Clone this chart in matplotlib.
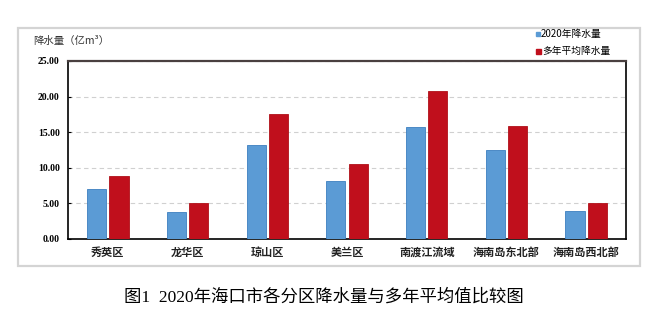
import matplotlib.pyplot as plt
import matplotlib.patches as patches
import numpy as np

plt.rcParams['font.family'] = ['Noto Sans CJK SC', 'DejaVu Sans']

regions = ['秀英区', '龙华区', '琼山区', '美兰区', '南渡江流域', '海南岛东北部', '海南岛西北部']
rain_2020 = [7.0, 3.8, 13.2, 8.1, 15.7, 12.5, 3.9]
rain_avg = [8.8, 5.0, 17.6, 10.5, 20.8, 15.9, 5.0]
yticks = [0, 5, 10, 15, 20, 25]

blue = '#5b9bd5'
red = '#c00f1c'

fig = plt.figure(figsize=(6.48, 3.25), dpi=100)

# outer frame
frame = patches.Rectangle((18/648, 1-266/325), (640-18)/648, (266-28)/325,
                          transform=fig.transFigure, fill=False,
                          edgecolor='#d4d4d4', linewidth=1.6)
fig.patches.append(frame)

ax = fig.add_axes([68/648, 1-239/325, (626-68)/648, (239-61)/325])
x = np.arange(len(regions))
w = 0.24
ax.bar(x - 0.14, rain_2020, w, color=blue, edgecolor='#3c7fc0', linewidth=0.6, zorder=3)
ax.bar(x + 0.14, rain_avg, w, color=red, edgecolor='#b01018', linewidth=0.6, zorder=3)

ax.set_xlim(-0.5, len(regions) - 0.5)
ax.set_ylim(0, 25)
ax.set_yticks(yticks)
ax.set_yticklabels(['%.2f' % v for v in yticks], family='Liberation Serif',
                   fontweight='bold', fontsize=7)
ax.set_xticks(x)
ax.set_xticklabels(regions, fontsize=8, fontweight='bold', color='#222222')
ax.tick_params(axis='x', length=0, pad=5)
ax.tick_params(axis='y', length=2, direction='in', pad=6)
ax.yaxis.grid(True, linestyle=(0, (4, 3)), color='#d0d0d0', linewidth=0.8, zorder=0)
for s in ['left', 'bottom', 'right']:
    ax.spines[s].set_linewidth(1.2)
    ax.spines[s].set_color('black')
ax.spines['top'].set_linewidth(1.6)
ax.spines['top'].set_color('#4a4040')

fig.text(33/648, 1-41/325, '降水量（亿m³）', fontsize=7.5, va='center', color='#333333')

# legend
fig.patches.append(patches.Rectangle((536/648, 1-36/325), 4/648, 4/325,
                                     transform=fig.transFigure, color=blue))
fig.text(541/648, 1-34/325, '2020年降水量', fontsize=7, va='center')
fig.patches.append(patches.Rectangle((536/648, 1-54/325), 5/648, 5/325,
                                     transform=fig.transFigure, color=red))
fig.text(542/648, 1-51/325, '多年平均降水量', fontsize=7, va='center')

fig.text(0.5, 1-297/325, '图1  2020年海口市各分区降水量与多年平均值比较图',
         fontsize=12.5, ha='center', va='center',
         family=['Liberation Serif', 'Noto Sans CJK SC'])

fig.savefig('out.png', dpi=100)
